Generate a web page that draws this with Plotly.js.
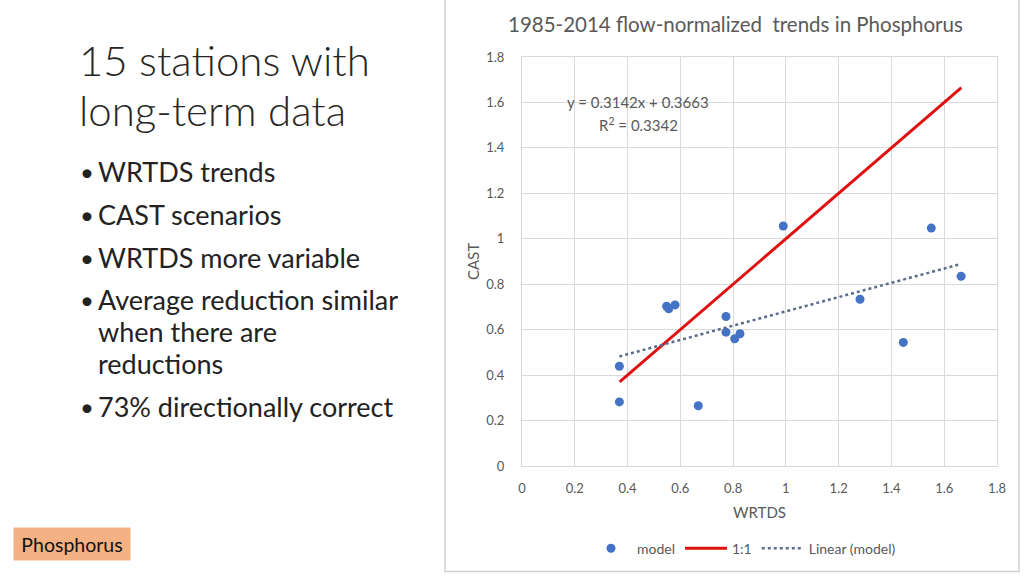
<!DOCTYPE html>
<html>
<head>
<meta charset="utf-8">
<script src="https://cdn.plot.ly/plotly-3.0.1.min.js"></script>
<style>
html,body{margin:0;padding:0;background:#fff;}
#chart{width:1024px;height:576px;}
</style>
</head>
<body>
<div id="chart"></div>
<script>
// Data
const wrtds = [0.369, 0.369, 0.548, 0.556, 0.580, 0.668, 0.773, 0.773, 0.806, 0.826, 0.990, 1.281, 1.445, 1.551, 1.664];
const cast  = [0.439, 0.282, 0.703, 0.692, 0.709, 0.265, 0.658, 0.589, 0.560, 0.582, 1.056, 0.734, 0.544, 1.047, 0.835];
const oneToOneX = [0.37, 1.665];
const oneToOneY = [0.37, 1.665];
const trendSlope = 0.3142;
const trendIntercept = 0.3663;
const trendR2 = 0.3342;
const xTicks = [0, 0.2, 0.4, 0.6, 0.8, 1, 1.2, 1.4, 1.6, 1.8];
const yTicks = [0, 0.2, 0.4, 0.6, 0.8, 1, 1.2, 1.4, 1.6, 1.8];
const slideTitle = ["15 stations with", "long-term data"];
const bullets = ["WRTDS trends", "CAST scenarios", "WRTDS more variable", "Average reduction similar", "73% directionally correct"];
const bulletCont = ["when there are", "reductions"];
const chartTitle = "1985-2014 flow-normalized  trends in Phosphorus";

const trendX = [Math.min(...wrtds), Math.max(...wrtds)];
const trendY = trendX.map(v => trendSlope * v + trendIntercept);

// plot area pixel geometry
const L = 522, R = 997, T = 57, B = 468;
const W = 1024, H = 576;
const px = x => (x - L) / (R - L);
const py = y => (B - y) / (B - T);

const FONT = "Lato, 'Open Sans', sans-serif";
const GRAY = "#595959";

const ann = [];
// slide title
ann.push({text: slideTitle[0], x: px(77), y: py(60), xref:'paper', yref:'paper', xanchor:'left', yanchor:'middle', showarrow:false, font:{family:FONT, size:42, color:'#262626', weight:300}});
ann.push({text: slideTitle[1], x: px(77), y: py(110), xref:'paper', yref:'paper', xanchor:'left', yanchor:'middle', showarrow:false, font:{family:FONT, size:42, color:'#262626', weight:300}});
const bulletYs = [172, 215, 258, 301, 408];
bullets.forEach((b, i) => {
  ann.push({text: "•", x: px(78), y: py(bulletYs[i]), xref:'paper', yref:'paper', xanchor:'left', yanchor:'middle', showarrow:false, font:{family:FONT, size:24, color:'#222'}});
  ann.push({text: b, x: px(96), y: py(bulletYs[i]), xref:'paper', yref:'paper', xanchor:'left', yanchor:'middle', showarrow:false, font:{family:FONT, size:27, color:'#222'}});
});
const contYs = [333, 365];
bulletCont.forEach((b, i) => {
  ann.push({text: b, x: px(96), y: py(contYs[i]), xref:'paper', yref:'paper', xanchor:'left', yanchor:'middle', showarrow:false, font:{family:FONT, size:27, color:'#222'}});
});
// Phosphorus tag
ann.push({text: "Phosphorus", x: px(72), y: py(546.5), xref:'paper', yref:'paper', xanchor:'center', yanchor:'middle', showarrow:false, bgcolor:'#F4B183', width:112, height:28, borderpad:2, font:{family:FONT, size:19.5, color:'#111'}});
// chart title
ann.push({text: chartTitle, x: px(735), y: py(24), xref:'paper', yref:'paper', xanchor:'center', yanchor:'middle', showarrow:false, font:{family:FONT, size:20.5, color:GRAY}});
// equation
ann.push({text: "y = " + trendSlope + "x + " + trendIntercept, x: px(638), y: py(102), xref:'paper', yref:'paper', xanchor:'center', yanchor:'middle', showarrow:false, font:{family:FONT, size:15, color:GRAY}});
ann.push({text: "R<sup>2</sup> = " + trendR2, x: px(638), y: py(125), xref:'paper', yref:'paper', xanchor:'center', yanchor:'middle', showarrow:false, font:{family:FONT, size:15, color:GRAY}});

const traces = [
  {x: wrtds, y: cast, mode:'markers', type:'scatter', name:'model', marker:{color:'#4472C4', size:9}},
  {x: oneToOneX, y: oneToOneY, mode:'lines', type:'scatter', name:'1:1', line:{color:'#E01010', width:3}},
  {x: trendX, y: trendY, mode:'lines', type:'scatter', name:'Linear (model)', line:{color:'#5A6C8C', width:2.5, dash:'dot'}}
];

const axisCommon = {
  showgrid:true, gridcolor:'#d9d9d9', gridwidth:1, zeroline:false,
  showline:true, linecolor:'#d9d9d9', mirror:true, ticks:'',
  tickfont:{family:FONT, size:13, color:GRAY}
};

const layout = {
  width: W, height: H,
  paper_bgcolor:'#fff', plot_bgcolor:'#fff',
  margin:{l:L, r:W-R, t:T, b:H-B, pad:0},
  showlegend:true,
  legend:{orientation:'h', x:px(743), xanchor:'center', y:py(551), yanchor:'middle', font:{family:FONT, size:14, color:GRAY}, itemwidth:42, bgcolor:'rgba(0,0,0,0)'},
  xaxis: Object.assign({}, axisCommon, {range:[0,1.8], tickvals:xTicks, ticklabelstandoff:10,
    title:{text:'WRTDS', font:{family:FONT, size:15, color:GRAY}, standoff:12}}),
  yaxis: Object.assign({}, axisCommon, {range:[0,1.8], tickvals:yTicks, ticklabelstandoff:14,
    title:{text:'CAST', font:{family:FONT, size:15, color:GRAY}, standoff:2}}),
  annotations: ann,
  shapes: [
    {type:'rect', xref:'paper', yref:'paper', x0:px(445), x1:px(1019), y0:py(574), y1:py(-2), line:{color:'#d0d0d0', width:1.5}, fillcolor:'rgba(0,0,0,0)', layer:'below'}
  ]
};

Plotly.newPlot('chart', traces, layout, {displayModeBar:false, staticPlot:true});
</script>
</body>
</html>
